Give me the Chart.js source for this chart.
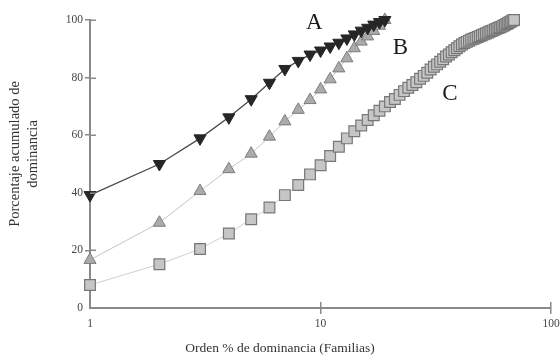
<!DOCTYPE html>
<html><head><meta charset="utf-8">
<script src="https://cdn.jsdelivr.net/npm/chart.js@4"></script>
<style>html,body{margin:0;padding:0;background:#fff}#wrap{width:560px;height:356px;position:relative}</style>
</head><body><div id="wrap"><canvas id="c"></canvas></div>
<script>
// Orden (x) for each curve
const xA = [1,2,3,4,5,6,7,8,9,10,11,12,13,14,15,16,17,18,19];
const yA = [39.2,50,58.9,66.2,72.5,78.2,83,85.8,88,89.4,90.8,92.1,93.6,95,96.3,97.3,98.4,99.3,100];
const xB = [1,2,3,4,5,6,7,8,9,10,11,12,13,14,15,16,17,18,19];
const yB = [16.7,29.6,40.6,48.2,53.6,59.5,64.8,68.8,72.2,75.9,79.4,83.2,86.7,90.2,92.5,94.3,96.2,98,100];
const xC = [1,2,3,4,5,6,7,8,9,10,11,12,13,14,15,16,17,18,19,20,21,22,23,24,25,26,27,28,29,30,31,32,33,34,35,36,37,38,39,40,41,42,43,44,45,46,47,48,49,50,51,52,53,54,55,56,57,58,59,60,61,62,63,64,65,66,67,68,69];
const yC = [8,15.2,20.5,25.9,30.8,34.9,39.2,42.7,46.4,49.6,52.8,56,58.9,61.4,63.4,65.3,66.9,68.5,70,71.5,72.6,74,75.3,76.5,77.4,78.4,79.6,80.6,81.7,82.8,83.8,84.6,85.5,86.4,87.3,88,88.8,89.5,90.2,90.9,91.5,92,92.4,92.8,93.2,93.5,93.8,94.1,94.4,94.7,95,95.3,95.6,95.9,96.2,96.4,96.7,97,97.2,97.5,97.7,98,98.3,98.6,98.9,99.2,99.5,99.8,100];
const xTicks = [1,10,100];
const yTicks = [0,20,40,60,80,100];
const seriesNames = ['A','B','C'];
const labelX = [9.4,22.2,36.4];
const labelY = [99,90.3,74.3];
const xTitle = 'Orden % de dominancia (Familias)';
const yTitle = ['Porcentaje acumulado de','dominancia'];

const pts = (xs, ys) => xs.map((x,i)=>({x, y: ys[i]}));
const SERIF = '"Liberation Serif", "DejaVu Serif", serif';
const AXIS = '#8a8a8a';

const extras = {
  id: 'extras',
  afterDraw(chart) {
    const ctx = chart.ctx, xs = chart.scales.x, ys = chart.scales.y, ca = chart.chartArea;
    ctx.save();
    ctx.strokeStyle = AXIS; ctx.lineWidth = 1.5;
    yTicks.forEach(v => { if (v === 0) return; const p = Math.round(ys.getPixelForValue(v)) + 0.25;
      ctx.beginPath(); ctx.moveTo(ca.left, p); ctx.lineTo(ca.left + 6, p); ctx.stroke(); });
    xTicks.forEach(v => { if (v === 1) return; const p = Math.round(xs.getPixelForValue(v)) - 0.25;
      ctx.beginPath(); ctx.moveTo(p, ca.bottom); ctx.lineTo(p, ca.bottom - 6); ctx.stroke(); });
    ctx.fillStyle = '#333';
    ctx.textAlign = 'center'; ctx.textBaseline = 'middle';
    ctx.font = '13.5px ' + SERIF;
    ctx.fillText(xTitle, 280, 348);
    ctx.save();
    ctx.font = '14.5px ' + SERIF;
    ctx.translate(15, 154); ctx.rotate(-Math.PI/2);
    ctx.fillText(yTitle[0], 0, 0);
    ctx.fillText(yTitle[1], 0, 18);
    ctx.restore();
    ctx.fillStyle = '#1a1a1a';
    ctx.font = '23px ' + SERIF;
    seriesNames.forEach((n,i) => ctx.fillText(n, xs.getPixelForValue(labelX[i]), ys.getPixelForValue(labelY[i])));
    ctx.restore();
  }
};

new Chart(document.getElementById('c'), {
  type: 'line',
  data: { datasets: [
    { label: 'A', data: pts(xA,yA), clip: false, borderColor: '#4a4a4a', borderWidth: 1.3, pointStyle: 'triangle', rotation: 180,
      pointRadius: 7, pointBackgroundColor: '#262626', pointBorderColor: '#262626', pointBorderWidth: 1 },
    { label: 'B', data: pts(xB,yB), clip: false, borderColor: '#c4c4c4', borderWidth: 1, pointStyle: 'triangle',
      pointRadius: 7, pointBackgroundColor: '#ababab', pointBorderColor: '#7d7d7d', pointBorderWidth: 1 },
    { label: 'C', data: pts(xC,yC), clip: false, borderColor: '#cfcfcf', borderWidth: 1, pointStyle: 'rect',
      pointRadius: 7.6, pointBackgroundColor: '#c6c6c6', pointBorderColor: '#777', pointBorderWidth: 1.2 }
  ]},
  options: {
    responsive: true, maintainAspectRatio: false, animation: false, devicePixelRatio: 1,
    layout: { padding: { top: 20, right: 3, left: 0, bottom: 0 } },
    plugins: { legend: { display: false }, tooltip: { enabled: false } },
    scales: {
      x: { type: 'logarithmic', min: 1, max: 100,
        afterBuildTicks: s => { s.ticks = xTicks.map(v => ({ value: v })); },
        afterFit: s => { s.height = 48; s.paddingLeft = 0; s.paddingRight = 0; },
        ticks: { callback: v => String(v), autoSkip: false, maxRotation: 0, padding: 3, color: '#444', font: { family: SERIF, size: 11.5 } },
        grid: { drawOnChartArea: false, tickLength: 6, lineWidth: 1.5, color: c => (c.tick && c.tick.value === 1) ? 'rgba(0,0,0,0)' : AXIS },
        border: { color: AXIS, width: 2 } },
      y: { min: 0, max: 100,
        afterBuildTicks: s => { s.ticks = yTicks.map(v => ({ value: v })); },
        afterFit: s => { s.width = 90; s.paddingTop = 0; s.paddingBottom = 0; },
        ticks: { padding: 2, color: '#444', font: { family: SERIF, size: 11.5 } },
        grid: { drawOnChartArea: false, tickLength: 5, lineWidth: 1.5, color: c => (c.tick && c.tick.value === 0) ? 'rgba(0,0,0,0)' : AXIS },
        border: { color: AXIS, width: 2 } }
    }
  },
  plugins: [extras]
});
</script></body></html>
